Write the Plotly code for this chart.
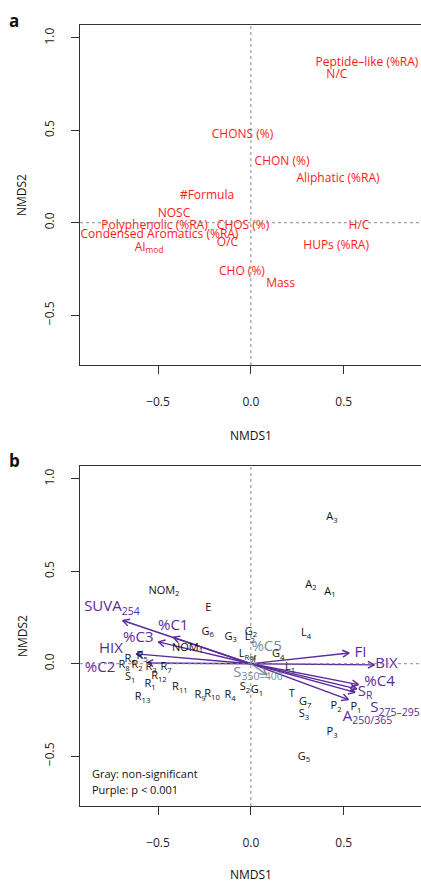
import numpy as np
import plotly.graph_objects as go

W, H = 421, 881
FONT = "Open Sans"

# ---------------- Panel a data ----------------
chem_labels = ["Peptide–like (%RA)", "N/C", "CHONS (%)", "CHON (%)", "Aliphatic (%RA)",
               "#Formula", "NOSC", "Polyphenolic (%RA)", "CHOS (%)", "H/C",
               "Condensed Aromatics (%RA)", "O/C", "HUPs (%RA)", "AI<sub>mod</sub>",
               "CHO (%)", "Mass"]
chem_x = [0.625, 0.463, -0.045, 0.168, 0.469, -0.236, -0.414, -0.519, -0.042, 0.582,
          -0.492, -0.126, 0.459, -0.548, -0.048, 0.160]
chem_y = [0.865, 0.800, 0.473, 0.330, 0.237, 0.146, 0.047, -0.018, -0.018, -0.018,
          -0.067, -0.112, -0.125, -0.135, -0.265, -0.332]

# ---------------- Panel b data ----------------
site_labels = ["A<sub>3</sub>", "A<sub>2</sub>", "A<sub>1</sub>", "L<sub>4</sub>", "G<sub>4</sub>",
               "NOM<sub>2</sub>", "E", "G<sub>6</sub>", "G<sub>3</sub>", "G<sub>2</sub>",
               "L<sub>2</sub>", "NOM<sub>1</sub>", "L<sub>Ref</sub>", "L<sub>1</sub>",
               "R<sub>8</sub>", "R<sub>6</sub>", "R<sub>2</sub>", "R<sub>5</sub>", "R<sub>3</sub>",
               "R<sub>12</sub>", "R<sub>7</sub>", "S<sub>1</sub>", "R<sub>1</sub>", "R<sub>11</sub>",
               "R<sub>13</sub>", "R<sub>9</sub>", "R<sub>10</sub>", "R<sub>4</sub>", "S<sub>2</sub>",
               "G<sub>1</sub>", "T", "G<sub>7</sub>", "S<sub>3</sub>", "P<sub>2</sub>",
               "P<sub>1</sub>", "P<sub>3</sub>", "G<sub>5</sub>"]
site_x = [0.437, 0.324, 0.426, 0.297, 0.147, -0.468, -0.229, -0.233, -0.108, 0.001,
          -0.005, -0.341, -0.018, 0.211, -0.683, -0.650, -0.613, -0.586, -0.537,
          -0.495, -0.457, -0.650, -0.543, -0.382, -0.583, -0.274, -0.209, -0.112, -0.032,
          0.033, 0.220, 0.292, 0.286, 0.459, 0.566, 0.437, 0.286]
site_y = [0.791, 0.427, 0.388, 0.163, 0.049, 0.392, 0.298, 0.170, 0.145, 0.173,
          0.141, 0.085, 0.049, -0.021, -0.010, 0.022, -0.010, 0.038, -0.021,
          -0.070, -0.021, -0.075, -0.113, -0.129, -0.183, -0.172, -0.167, -0.172, -0.129,
          -0.145, -0.167, -0.210, -0.275, -0.232, -0.237, -0.372, -0.507]

# fitted vectors (purple: significant, gray: non-significant)
vec_labels = ["FI", "BIX", "%C4", "S<sub>R</sub>", "S<sub>275–295</sub>", "A<sub>250/365</sub>",
              "SUVA<sub>254</sub>", "%C1", "%C3", "HIX", "%C2",
              "%C5", "S<sub>350–400</sub>"]
vec_sig = [True] * 11 + [False, False]
vec_tip_x = [0.529, 0.665, 0.579, 0.570, 0.561, 0.525, -0.690, -0.418, -0.498, -0.618, -0.561,
             0.022, 0.085]
vec_tip_y = [0.058, -0.006, -0.113, -0.136, -0.155, -0.194, 0.234, 0.143, 0.118, 0.053, 0.004,
             0.033, -0.059]
vec_lab_x = [0.590, 0.730, 0.693, 0.615, 0.776, 0.628, -0.748, -0.418, -0.606, -0.753, -0.812,
             0.085, 0.038]
vec_lab_y = [0.058, -0.005, -0.100, -0.156, -0.243, -0.291, 0.303, 0.202, 0.137, 0.080, -0.023,
             0.091, -0.053]

x_ticks = [-0.5, 0.0, 0.5]
x_ticktext = ["−0.5", "0.0", "0.5"]
y_ticks = [-0.5, 0.0, 0.5, 1.0]
y_ticktext = ["−0.5", "0.0", "0.5", "1.0"]

PURPLE = "#5B2A9A"
GRAY = "#7A8B9E"
RED = "#FF1A1A"

fig = go.Figure()

# panel a text
fig.add_trace(go.Scatter(x=chem_x, y=chem_y, text=chem_labels, mode="text",
                         textposition="middle center",
                         textfont=dict(family=FONT, size=12, color=RED),
                         xaxis="x", yaxis="y", hoverinfo="skip"))

# panel b arrows
def arrow_paths(tx, ty, h=0.04, ang=np.deg2rad(28)):
    xs, ys = [], []
    for x1, y1 in zip(tx, ty):
        L = np.hypot(x1, y1)
        dx, dy = x1 / L, y1 / L
        hh = min(h, 0.6 * L)
        xs += [0, x1, None]
        ys += [0, y1, None]
        for s in (1, -1):
            c, sn = np.cos(s * ang), np.sin(s * ang)
            rx, ry = dx * c - dy * sn, dx * sn + dy * c
            xs += [x1 - hh * rx, x1, None]
            ys += [y1 - hh * ry, y1, None]
    return xs, ys

for sig, col in ((True, PURPLE), (False, GRAY)):
    tx = [x for x, s in zip(vec_tip_x, vec_sig) if s == sig]
    ty = [y for y, s in zip(vec_tip_y, vec_sig) if s == sig]
    px, py = arrow_paths(tx, ty)
    fig.add_trace(go.Scatter(x=px, y=py, mode="lines", line=dict(color=col, width=1.4),
                             xaxis="x2", yaxis="y2", hoverinfo="skip"))

# site labels
fig.add_trace(go.Scatter(x=site_x, y=site_y, text=site_labels, mode="text",
                         textposition="middle center",
                         textfont=dict(family=FONT, size=11, color="#111"),
                         xaxis="x2", yaxis="y2", hoverinfo="skip"))

# vector labels
fig.add_trace(go.Scatter(x=vec_lab_x, y=vec_lab_y, text=vec_labels, mode="text",
                         textposition="middle center",
                         textfont=dict(family=FONT, size=15,
                                       color=[PURPLE if s else GRAY for s in vec_sig]),
                         xaxis="x2", yaxis="y2", hoverinfo="skip"))

xr = [-0.92, 0.916]
yr = [-0.77, 1.07]

def xax(anchor):
    return dict(domain=[80 / W, 1.0], range=xr, anchor=anchor, tickvals=x_ticks,
                ticktext=x_ticktext, ticks="outside", ticklen=8, tickwidth=1.4,
                tickcolor="#333", showline=True, mirror=True, linecolor="#333", linewidth=1.4,
                showgrid=False, zeroline=False, ticklabelstandoff=17,
                tickfont=dict(family=FONT, size=12, color="#222"), fixedrange=True)

def yax(anchor, top, bottom):
    return dict(domain=[1 - bottom / H, 1 - top / H], range=yr, anchor=anchor, tickvals=y_ticks,
                ticktext=y_ticktext, ticks="outside", ticklen=8, tickwidth=1.4,
                tickcolor="#333", showline=True, mirror=True, linecolor="#333", linewidth=1.4,
                showgrid=False, zeroline=False, tickangle=-90, ticklabelstandoff=12,
                tickfont=dict(family=FONT, size=12, color="#222"), fixedrange=True)

shapes = []
for xa, ya in (("x", "y"), ("x2", "y2")):
    shapes.append(dict(type="line", xref=xa, yref=ya, x0=0, x1=0, y0=yr[0], y1=yr[1],
                       line=dict(color="#8a8a8a", width=1, dash="dot")))
    shapes.append(dict(type="line", xref=xa, yref=ya, x0=xr[0], x1=xr[1], y0=0, y1=0,
                       line=dict(color="#8a8a8a", width=1, dash="dot")))

def ann(text, px, py, size=12, angle=0, bold=False, xanchor="center"):
    return dict(text=f"<b>{text}</b>" if bold else text, x=px / W, y=1 - py / H,
                xref="paper", yref="paper", showarrow=False, textangle=angle,
                xanchor=xanchor, yanchor="middle",
                font=dict(family=FONT, size=size, color="#111"))

annotations = [
    ann("a", 14, 20, size=17, bold=True),
    ann("b", 14, 460, size=17, bold=True),
    ann("NMDS1", 250.85, 435),
    ann("NMDS1", 250.85, 874),
    ann("NMDS2", 22, 195, angle=-90),
    ann("NMDS2", 22, 636, angle=-90),
    ann("Gray: non-significant", 90, 773, size=11, xanchor="left"),
    ann("Purple: p &lt; 0.001", 90, 789, size=11, xanchor="left"),
]

fig.update_layout(
    width=W, height=H, margin=dict(l=0, r=0, t=0, b=0),
    paper_bgcolor="white", plot_bgcolor="white", showlegend=False,
    xaxis=xax("y"), yaxis=yax("x", 25, 365),
    xaxis2=xax("y2"), yaxis2=yax("x2", 466, 806),
    shapes=shapes, annotations=annotations,
)

fig.write_html("out.html", config={"displayModeBar": False})
